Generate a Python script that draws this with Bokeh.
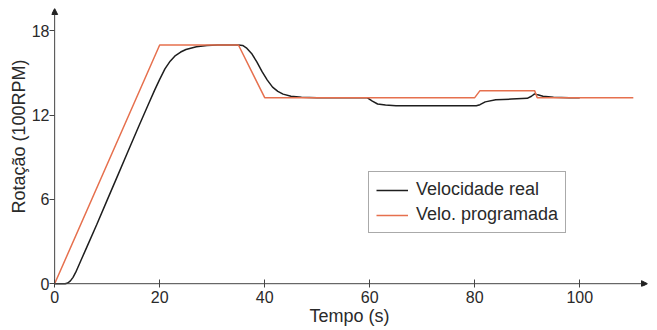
from bokeh.plotting import figure
from bokeh.models import (Range1d, FixedTicker, Arrow, NormalHead, Title,
                          Legend, LegendItem)
from bokeh.embed import file_html
from bokeh.resources import INLINE

# ---- data ----
prog_t = [0, 20, 35, 40, 80, 81, 91.4, 91.9, 110.2]
prog_v = [0, 17, 17, 13.25, 13.25, 13.75, 13.75, 13.25, 13.25]

real_t = [0, 2.0, 2.5, 3, 3.5, 4, 5, 6, 8, 10, 12, 14, 16, 18, 19, 20, 21, 22, 23,
          24, 25, 27, 29, 31, 35, 35.8, 36.5, 37.5, 38.5, 39.5, 40.5, 41.5, 42.5,
          43.5, 45, 47, 50, 59.5, 60.5, 61.5, 63, 65, 80.3, 81, 82, 84, 87, 90,
          90.8, 91.4, 92, 93, 95, 98, 100]
real_v = [0, 0, 0.05, 0.2, 0.45, 0.8, 1.65, 2.5, 4.2, 5.95, 7.7, 9.45, 11.2, 12.9,
          13.75, 14.55, 15.3, 15.85, 16.25, 16.5, 16.68, 16.87, 16.96, 17.0, 17.0,
          16.97, 16.8, 16.4, 15.8, 15.1, 14.5, 14.0, 13.7, 13.5, 13.35, 13.28, 13.25,
          13.25, 13.0, 12.8, 12.72, 12.68, 12.68, 12.75, 12.95, 13.1, 13.15, 13.2,
          13.35, 13.52, 13.45, 13.35, 13.28, 13.25, 13.25]

x_ticks = [0, 20, 40, 60, 80, 100]
y_ticks = [0, 6, 12, 18]
x_label = "Tempo (s)"
y_label = "Rotação (100RPM)"
series_names = ["Velocidade real", "Velo. programada"]

FONT = "Liberation Sans"
TXT = "#2a2a2a"
RED = "#e6704e"
BLK = "#1e1e1e"
AX = "#444444"

X_END = 112.9
Y_END = 19.6

p = figure(width=657, height=330, output_backend="svg", toolbar_location=None,
           x_range=Range1d(-0.6, X_END), y_range=Range1d(-0.2, Y_END),
           min_border_left=51, min_border_right=10, min_border_top=8,
           min_border_bottom=44)
p.outline_line_color = None
p.grid.visible = False
p.background_fill_color = "white"

for ax in (p.xaxis[0], p.yaxis[0]):
    ax.axis_line_color = None
    ax.major_tick_line_color = AX
    ax.major_tick_line_width = 1
    ax.minor_tick_line_color = None
    ax.major_label_text_font = FONT
    ax.major_label_text_font_size = "16px"
    ax.major_label_text_color = TXT

p.xaxis.ticker = FixedTicker(ticks=x_ticks)
p.yaxis.ticker = FixedTicker(ticks=y_ticks)
# axes sit ~3px outside the origin lines; ticks are lengthened to reach them
p.xaxis.major_tick_in = 7
p.xaxis.major_tick_out = 1
p.xaxis.major_label_standoff = 3
p.yaxis.major_tick_in = 3
p.yaxis.major_tick_out = 2
p.yaxis.major_label_standoff = 0

p.xaxis.axis_label = x_label
p.xaxis.axis_label_text_font = FONT
p.xaxis.axis_label_text_font_size = "18px"
p.xaxis.axis_label_text_font_style = "normal"
p.xaxis.axis_label_text_color = TXT
p.xaxis.axis_label_standoff = 0

p.add_layout(Title(text=y_label, align="left", offset=73, standoff=0,
                   text_font=FONT, text_font_size="18px",
                   text_font_style="normal", text_color=TXT), "left")

r_real = p.line(real_t, real_v, line_color=BLK, line_width=1.5)
r_prog = p.line(prog_t, prog_v, line_color=RED, line_width=1.5)

# axis lines with arrow heads
p.add_layout(Arrow(x_start=0, y_start=0, x_end=X_END, y_end=0,
                   line_color=AX, line_width=1,
                   end=NormalHead(size=6, fill_color="#222222", line_color="#222222")))
p.add_layout(Arrow(x_start=0, y_start=0, x_end=0, y_end=Y_END,
                   line_color=AX, line_width=1,
                   end=NormalHead(size=6, fill_color="#222222", line_color="#222222")))

legend = Legend(items=[LegendItem(label=series_names[0], renderers=[r_real]),
                       LegendItem(label=series_names[1], renderers=[r_prog])],
                location=(317, 53))
legend.label_text_font = FONT
legend.label_text_font_size = "18px"
legend.label_text_color = TXT
legend.border_line_color = "#555555"
legend.border_line_width = 1
legend.background_fill_alpha = 1
legend.padding = 7
legend.spacing = 4
legend.glyph_width = 32
legend.glyph_height = 20
legend.label_height = 20
legend.label_standoff = 8
legend.margin = 0
p.add_layout(legend)

open("out.html", "w").write(file_html(p, INLINE))
